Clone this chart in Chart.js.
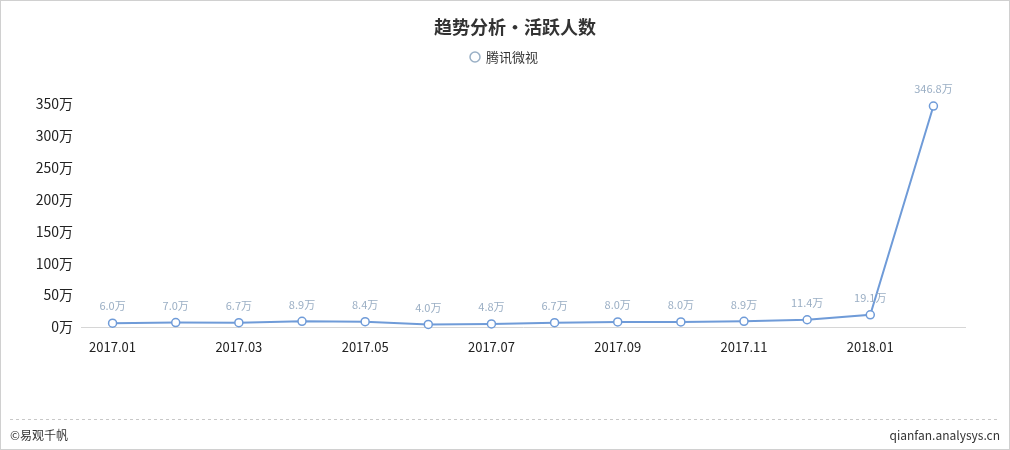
<!DOCTYPE html>
<html>
<head>
<meta charset="utf-8">
<script src="https://cdn.jsdelivr.net/npm/chart.js@4/dist/chart.umd.min.js"></script>
<style>
  html, body { margin: 0; padding: 0; background: #fff; }
  #wrap { width: 1010px; height: 450px; position: relative; box-sizing: border-box; border: 1px solid #d0d0d0; }
  canvas { display: block; }
</style>
</head>
<body>
<div id="wrap"><canvas id="myChart" width="1008" height="448"></canvas></div>
<script>
var months = ['2017.01', '2017.02', '2017.03', '2017.04', '2017.05', '2017.06', '2017.07',
              '2017.08', '2017.09', '2017.10', '2017.11', '2017.12', '2018.01', '2018.02'];
var activeUsers = [6.0, 7.0, 6.7, 8.9, 8.4, 4.0, 4.8, 6.7, 8.0, 8.0, 8.9, 11.4, 19.1, 346.8];
var yTicks = [0, 50, 100, 150, 200, 250, 300, 350];
var seriesName = '腾讯微视';
var chartTitle = '趋势分析・活跃人数';

var FONT = '"Noto Sans CJK SC", "Noto Sans", sans-serif';
var lineColor = '#6f9bd8';

// title, legend, point labels and footer
var extras = {
    id: 'extras',
    afterDraw: function(chart) {
        var ctx = chart.ctx;
        ctx.save();
        ctx.textBaseline = 'middle';

        ctx.fillStyle = '#333';
        ctx.font = 'bold 18px ' + FONT;
        ctx.textAlign = 'center';
        ctx.fillText(chartTitle, 514, 26);

        // legend
        ctx.beginPath();
        ctx.arc(474, 56, 5, 0, Math.PI * 2);
        ctx.strokeStyle = '#9ab0c6';
        ctx.lineWidth = 1.5;
        ctx.stroke();
        ctx.font = '13px ' + FONT;
        ctx.textAlign = 'left';
        ctx.fillStyle = '#333';
        ctx.fillText(seriesName, 485, 56);

        // value labels
        var meta = chart.getDatasetMeta(0);
        ctx.font = '11px ' + FONT;
        ctx.textAlign = 'center';
        ctx.fillStyle = '#9aaec4';
        meta.data.forEach(function(pt, i) {
            ctx.fillText(activeUsers[i].toFixed(1) + '万', pt.x, pt.y - 17);
        });

        // footer
        ctx.beginPath();
        ctx.setLineDash([3, 3]);
        ctx.strokeStyle = '#c8c8c8';
        ctx.lineWidth = 1;
        ctx.moveTo(9, 418.5);
        ctx.lineTo(999, 418.5);
        ctx.stroke();
        ctx.setLineDash([]);
        ctx.fillStyle = '#333';
        ctx.font = '12px ' + FONT;
        ctx.textAlign = 'left';
        ctx.fillText('©易观千帆', 9, 434);
        ctx.textAlign = 'right';
        ctx.fillText('qianfan.analysys.cn', 999, 434);
        ctx.restore();
    }
};

var ctx = document.getElementById('myChart').getContext('2d');
var myChart = new Chart(ctx, {
    type: 'line',
    data: {
        labels: months,
        datasets: [{
            label: seriesName,
            data: activeUsers,
            borderColor: lineColor,
            borderWidth: 2,
            backgroundColor: '#fff',
            pointBackgroundColor: '#fff',
            pointBorderColor: lineColor,
            pointBorderWidth: 1.5,
            pointRadius: 4,
            tension: 0,
            clip: false
        }]
    },
    options: {
        responsive: false,
        animation: false,
        layout: { padding: { top: 103, right: 44, bottom: 84, left: 0 } },
        plugins: {
            legend: { display: false },
            title: { display: false },
            tooltip: { enabled: false }
        },
        scales: {
            x: {
                offset: true,
                grid: { display: false, drawTicks: false },
                border: { display: true, color: '#d6d6d6', width: 1 },
                ticks: {
                    autoSkip: false,
                    maxRotation: 0,
                    padding: 12,
                    color: '#222',
                    font: { family: FONT, size: 13 },
                    callback: function(v, i) { return i % 2 === 0 ? months[i] : ''; }
                },
                afterFit: function(s) { s.height = 38; }
            },
            y: {
                min: 0,
                max: 350,
                afterBuildTicks: function(s) { s.ticks = yTicks.map(function(v) { return { value: v }; }); },
                grid: { display: false, drawTicks: false },
                border: { display: false },
                ticks: {
                    padding: 8,
                    color: '#222',
                    font: { family: FONT, size: 14 },
                    callback: function(v) { return v + '万'; }
                },
                afterFit: function(s) { s.width = 80; }
            }
        }
    },
    plugins: [extras]
});
</script>
</body>
</html>
